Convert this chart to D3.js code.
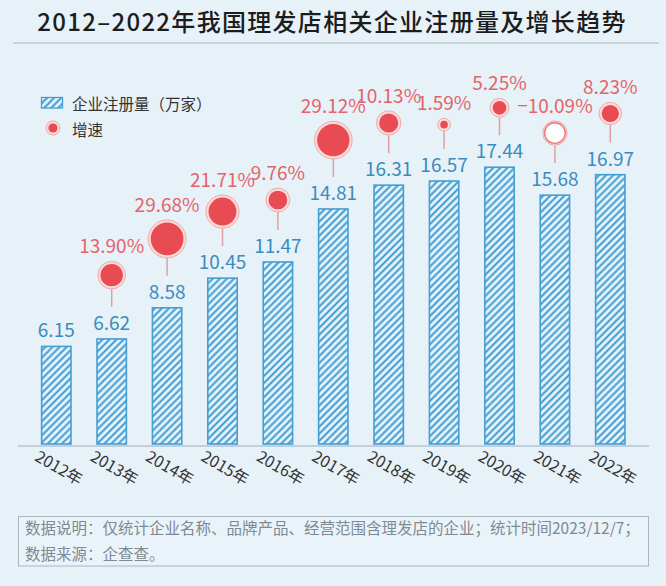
<!DOCTYPE html>
<html><head><meta charset="utf-8">
<script src="https://cdn.jsdelivr.net/npm/d3@7"></script>
<style>
html,body{margin:0;padding:0;background:#e7f1f8;}
svg{display:block;}
text{font-family:"Noto Sans CJK SC","Noto Sans",sans-serif;}
</style></head>
<body>
<script>
const years = ["2012年","2013年","2014年","2015年","2016年","2017年","2018年","2019年","2020年","2021年","2022年"];
const registrations = [6.15, 6.62, 8.58, 10.45, 11.47, 14.81, 16.31, 16.57, 17.44, 15.68, 16.97];
const growth = [null, 13.90, 29.68, 21.71, 9.76, 29.12, 10.13, 1.59, 5.25, -10.09, 8.23];
const titleText = "2012–2022年我国理发店相关企业注册量及增长趋势";
const legendLabels = ["企业注册量（万家）", "增速"];
const noteLines = ["数据说明：仅统计企业名称、品牌产品、经营范围含理发店的企业；统计时间2023/12/7；", "数据来源：企查查。"];

const W = 666, H = 586;
const svg = d3.select("body").append("svg").attr("width", W).attr("height", H);

const defs = svg.append("defs");
const pat = defs.append("pattern").attr("id","hatch").attr("patternUnits","userSpaceOnUse")
  .attr("width",5).attr("height",5).attr("patternTransform","rotate(45)");
pat.append("rect").attr("width",5).attr("height",5).attr("fill","#e9f6fc");
pat.append("line").attr("x1",2.5).attr("y1",-1).attr("x2",2.5).attr("y2",6)
  .attr("stroke","#3393cb").attr("stroke-width",1.9);

svg.append("rect").attr("width",W).attr("height",H).attr("fill","#e7f1f8");

// Title
svg.append("text").attr("x",332).attr("y",31).attr("text-anchor","middle")
  .attr("font-size",24).attr("font-weight",500).attr("letter-spacing",1.3)
  .attr("fill","#1c1c1c").text(titleText);
svg.append("line").attr("x1",13).attr("x2",659).attr("y1",43).attr("y2",43)
  .attr("stroke","#bccbd5").attr("stroke-width",1.5);

// Scales
const x = d3.scaleBand().domain(years).range([28.6, 638]).paddingInner(0.47).paddingOuter(0.235);
const y = d3.scaleLinear().domain([0, 20]).range([444, 126.6]);
const r = d3.scaleSqrt().domain([0, 30]).range([2.6, 19.03]);

// Axis
const xAxis = d3.axisBottom(x).tickSize(0).tickPadding(0);
const gx = svg.append("g").attr("transform","translate(0,446)").call(xAxis);
gx.select(".domain").remove();
gx.selectAll(".tick text").remove();
svg.append("line").attr("x1",18).attr("x2",649).attr("y1",446).attr("y2",446)
  .attr("stroke","#9eaeb9").attr("stroke-width",1);

svg.append("g").selectAll("text").data(years).join("text")
  .attr("transform", d => `translate(${x(d)+x.bandwidth()/2+2},469) rotate(30)`)
  .attr("text-anchor","middle").attr("dominant-baseline","middle")
  .attr("font-size",16).attr("fill","#333").text(d => d);

// Bars
svg.append("g").selectAll("rect").data(registrations).join("rect")
  .attr("x",(d,i)=>x(years[i])).attr("width",x.bandwidth())
  .attr("y",d=>y(d)).attr("height",d=>y(0)-y(d))
  .attr("fill","url(#hatch)").attr("stroke","#449fd4").attr("stroke-width",1.6);

// Value labels
svg.append("g").selectAll("text").data(registrations).join("text")
  .attr("x",(d,i)=>x(years[i])+x.bandwidth()/2).attr("y",d=>y(d)-9)
  .attr("text-anchor","middle").attr("font-size",19).attr("fill","#3a8cc0")
  .text(d=>d.toFixed(2));

// Growth bubbles
const gData = growth.map((g,i)=>({g, i})).filter(d=>d.g!==null);
const gg = svg.append("g");
gData.forEach(d=>{
  const cx = x(years[d.i]) + x.bandwidth()/2;
  const top = y(registrations[d.i]);
  const rr = r(Math.abs(d.g));
  const cy = top - 50 - rr;
  gg.append("line").attr("x1",cx).attr("x2",cx).attr("y1",cy+rr).attr("y2",top-32)
    .attr("stroke","#dea2a6").attr("stroke-width",1.5);
  gg.append("circle").attr("cx",cx).attr("cy",cy).attr("r",rr)
    .attr("fill","#f9dcda").attr("stroke","#efaaa7").attr("stroke-width",1);
  if (d.g >= 0) {
    gg.append("circle").attr("cx",cx).attr("cy",cy).attr("r",Math.max(rr-2.6,1))
      .attr("fill","#e84b51");
  } else {
    gg.append("circle").attr("cx",cx).attr("cy",cy).attr("r",rr-1.8)
      .attr("fill","#ffffff").attr("stroke","#e97a7d").attr("stroke-width",1.4);
  }
  gg.append("text").attr("x",cx).attr("y",cy-rr-8).attr("text-anchor","middle")
    .attr("font-size",19).attr("fill","#e5636a")
    .text((d.g<0?"−":"") + Math.abs(d.g).toFixed(2) + "%");
});

// Legend
svg.append("rect").attr("x",41.5).attr("y",97.5).attr("width",21).attr("height",10.5)
  .attr("fill","url(#hatch)").attr("stroke","#449fd4").attr("stroke-width",1.3);
svg.append("circle").attr("cx",53).attr("cy",128).attr("r",7)
  .attr("fill","#f9dcda").attr("stroke","#efaaa7").attr("stroke-width",1);
svg.append("circle").attr("cx",53).attr("cy",128).attr("r",4.6).attr("fill","#e84b51");
svg.append("g").selectAll("text").data(legendLabels).join("text")
  .attr("x",72).attr("y",(d,i)=>103+i*25.5).attr("dominant-baseline","central")
  .attr("font-size",15.5).attr("fill","#333").text(d=>d);

// Note box
svg.append("rect").attr("x",18.5).attr("y",516.5).attr("width",630).attr("height",49.5)
  .attr("fill","#eaf3f9").attr("stroke","#a9b6bf").attr("stroke-width",1);
svg.append("g").selectAll("text").data(noteLines).join("text")
  .attr("x",25).attr("y",(d,i)=>534+i*26).attr("font-size",15.5).attr("fill","#7d8a93")
  .text(d=>d);
</script>
</body></html>
